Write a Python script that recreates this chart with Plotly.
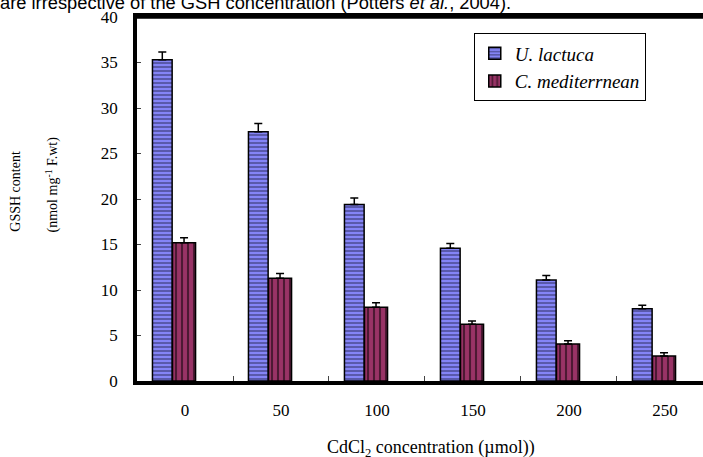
import plotly.graph_objects as go

categories = ["0", "50", "100", "150", "200", "250"]
u_lactuca = [35.3, 27.4, 19.4, 14.6, 11.1, 7.95]
u_lactuca_err = [0.85, 0.9, 0.7, 0.5, 0.5, 0.37]
c_med = [15.2, 11.3, 8.1, 6.25, 4.07, 2.75]
c_med_err = [0.55, 0.5, 0.5, 0.35, 0.35, 0.35]

SERIF = "Liberation Serif, Times New Roman, serif"

fig = go.Figure()
fig.add_trace(go.Bar(
    x=categories, y=u_lactuca, name="<i>U. lactuca</i>",
    width=0.205, offset=-0.339,
    marker=dict(color="#8484f6", line=dict(color="black", width=1.5),
                pattern=dict(shape="-", fgcolor="#25254f", bgcolor="#8484f6", size=4, solidity=0.45)),
    error_y=dict(type="data", symmetric=False, array=u_lactuca_err,
                 arrayminus=[0] * len(u_lactuca_err), color="black", thickness=1.5, width=4),
))
fig.add_trace(go.Bar(
    x=categories, y=c_med, name="<i>C. mediterrnean</i>",
    width=0.24, offset=-0.13,
    marker=dict(color="#993366", line=dict(color="black", width=1.5),
                pattern=dict(shape="|", fgcolor="black", bgcolor="#993366", size=6, solidity=0.35)),
    error_y=dict(type="data", symmetric=False, array=c_med_err,
                 arrayminus=[0] * len(c_med_err), color="black", thickness=1.5, width=4),
))

fig.update_layout(
    width=703, height=457,
    margin=dict(l=137, r=0, t=17, b=76, autoexpand=False),
    paper_bgcolor="white", plot_bgcolor="white",
    font=dict(family=SERIF, color="black", size=16),
    barmode="overlay",
    showlegend=True,
    title=dict(text="are irrespective of the GSH concentration (Potters <i>et al.</i>, 2004).",
               xref="container", yref="container", x=0, xanchor="left",
               y=(457 - 9) / 457, yanchor="bottom", pad=dict(l=0, r=0, t=0, b=0),
               font=dict(family="Liberation Sans, Arial, sans-serif", size=18.3, color="black")),
    legend=dict(x=0.595, y=0.955, xanchor="left", yanchor="top",
                bordercolor="black", borderwidth=1, bgcolor="white",
                font=dict(family=SERIF, size=19, color="black"),
                itemwidth=30, tracegroupgap=2),
)
fig.update_xaxes(
    type="category", range=[-0.5, 5.396], automargin=False,
    showline=True, linecolor="black", linewidth=3.5, mirror=True,
    ticks="inside", tickson="boundaries", ticklen=5, tickcolor="#444", tickwidth=1,
    tickfont=dict(family=SERIF, size=17), ticklabelstandoff=11,
    showgrid=False, zeroline=False,
)
fig.update_yaxes(
    range=[0, 40], dtick=5, automargin=False,
    showline=True, linecolor="black", linewidth=3.5, mirror=False,
    ticks="inside", ticklen=4, tickcolor="#444", tickwidth=1,
    tickfont=dict(family=SERIF, size=17), ticklabelstandoff=12,
    showgrid=False, zeroline=False,
)

# top frame line of the plot area
fig.add_shape(type="line", xref="paper", yref="paper", x0=-0.003, x1=1, y0=1, y1=1,
              line=dict(color="black", width=3.5), layer="above")

annotations = [
    dict(text="GSSH content", x=(16 - 137) / 566, y=0.52, xref="paper", yref="paper",
         xanchor="center", yanchor="middle",
         textangle=-90, showarrow=False, font=dict(family=SERIF, size=14)),
    dict(text="(nmol mg<sup>-1</sup> F.wt)", x=(52 - 137) / 566, y=0.54, xref="paper", yref="paper",
         xanchor="center", yanchor="middle",
         textangle=-90, showarrow=False, font=dict(family=SERIF, size=14)),
    dict(text="CdCl<sub>2</sub> concentration (µmol))", x=(431 - 137) / 566, y=-(448 - 381) / 364,
         xref="paper", yref="paper", xanchor="center", yanchor="middle", showarrow=False,
         font=dict(family=SERIF, size=18)),
]
fig.update_layout(annotations=annotations)

fig.write_html("out.html", config={"displayModeBar": False},
               post_script="document.body.style.margin='0px';")
